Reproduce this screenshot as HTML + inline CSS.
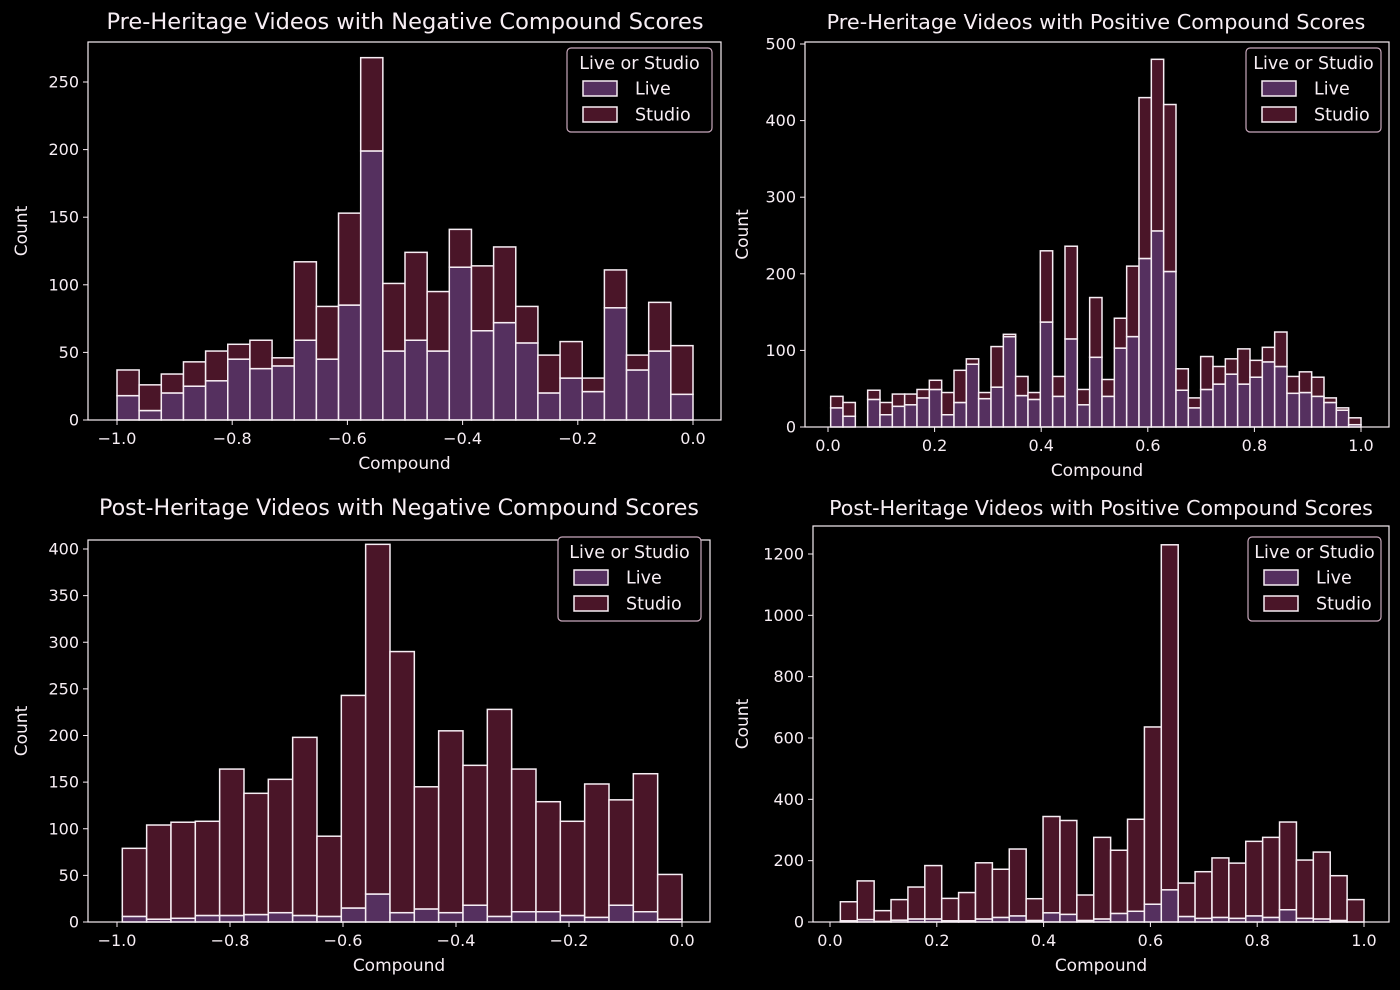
<!DOCTYPE html>
<html><head><meta charset="utf-8"><style>
html,body{margin:0;padding:0;background:#000;}
svg{display:block;font-family:"DejaVu Sans","Liberation Sans",sans-serif;}
</style></head><body>
<svg id="root" width="1400" height="990" viewBox="0 0 1400 990"></svg>
<script>
// Pre-Heritage negative
const tlLive=[18,7,20,25,29,45,38,40,59,45,85,199,51,59,51,113,66,72,57,20,31,21,83,37,51,19];
const tlTotal=[37,26,34,43,51,56,59,46,117,84,153,268,101,124,95,141,114,128,84,48,58,31,111,48,87,55];
// Pre-Heritage positive
const trLive=[25,14,0,36,16,27,29,38,49,16,32,82,37,52,118,41,36,137,40,115,29,91,40,103,118,220,256,203,48,25,49,56,69,56,65,85,79,44,45,40,32,22,3];
const trTotal=[40,32,0,48,32,43,43,49,61,45,74,89,45,105,121,66,45,230,66,236,49,169,62,142,210,430,480,421,76,38,92,79,89,102,87,104,124,66,72,65,38,25,12];
// Post-Heritage negative
const blLive=[6,3,4,7,7,8,10,7,6,15,30,10,14,10,18,6,11,11,7,5,18,11,3];
const blTotal=[79,104,107,108,164,138,153,198,92,243,405,290,145,205,168,228,164,129,108,148,131,159,51];
// Post-Heritage positive
const brLive=[4,8,2,6,10,10,4,4,10,15,20,5,30,25,5,10,28,35,58,105,18,12,15,12,20,15,40,12,10,5,0];
const brTotal=[66,134,37,73,114,184,77,96,193,172,238,76,344,331,88,276,234,335,636,1230,127,164,209,192,263,276,326,202,228,151,73];

const xTicksNeg=["−1.0","−0.8","−0.6","−0.4","−0.2","0.0"];
const xTickValsNeg=[-1,-0.8,-0.6,-0.4,-0.2,0];
const xTicksPos=["0.0","0.2","0.4","0.6","0.8","1.0"];
const xTickValsPos=[0,0.2,0.4,0.6,0.8,1];
const tlYTicks=[0,50,100,150,200,250];
const trYTicks=[0,100,200,300,400,500];
const blYTicks=[0,50,100,150,200,250,300,350,400];
const brYTicks=[0,200,400,600,800,1000,1200];

const NS="http://www.w3.org/2000/svg";
const root=document.getElementById('root');
function mk(tag,attrs,parent){const e=document.createElementNS(NS,tag);for(const k in attrs)e.setAttribute(k,attrs[k]);(parent||root).appendChild(e);return e;}
const LIVE="#55305f",STUDIO="#4a1528",FG="#f7eef4";

function panel(p){
  const g=mk('g',{});
  
  
  const sx=v=>p.x0px+(v-p.x0v)*(p.x1px-p.x0px)/(p.x1v-p.x0v);
  const sy=v=>p.y0px-v*(p.y0px-p.y1px)/p.y1v;
  for(let i=0;i<p.total.length;i++){
    const a=sx(p.start+i*p.w), b=sx(p.start+(i+1)*p.w);
    const live=p.live[i], tot=p.total[i];
    if(tot<=0) continue;
    const r1=mk('rect',{x:a,y:sy(live),width:b-a,height:sy(0)-sy(live),fill:LIVE,stroke:FG,'stroke-width':1.5},g);
    
    
    const r2=mk('rect',{x:a,y:sy(tot),width:b-a,height:sy(live)-sy(tot),fill:STUDIO,stroke:FG,'stroke-width':1.5},g);
    
    
  }
  const fr=mk('rect',{x:p.ax,y:p.ay,width:p.aw,height:p.ah,fill:'none',stroke:FG,'stroke-width':1.2},g);
  
  
  p.xv.forEach((v,i)=>{
    const x=sx(v);
    mk('line',{x1:x,x2:x,y1:p.ay+p.ah,y2:p.ay+p.ah+5,stroke:FG,'stroke-width':1},g);
    const t=mk('text',{x:x,y:p.ay+p.ah+24,'text-anchor':'middle','font-size':16,fill:FG},g);
    t.textContent=p.xl[i];
    
    
  });
  p.yt.forEach(v=>{
    const y=sy(v);
    mk('line',{x1:p.ax-5,x2:p.ax,y1:y,y2:y,stroke:FG,'stroke-width':1},g);
    const t=mk('text',{x:p.ax-9,y:y+5.5,'text-anchor':'end','font-size':16,fill:FG},g);
    t.textContent=v;
    
    
  });
  const xt=mk('text',{x:p.ax+p.aw/2,y:p.ay+p.ah+49,'text-anchor':'middle','font-size':17,fill:FG},g);
  xt.textContent='Compound';
  
  
  const ycx=p.ax-(p.ylx||60), ycy=p.ay+p.ah/2;
  const yt=mk('text',{x:ycx,y:ycy,'text-anchor':'middle','font-size':17,fill:FG,transform:`rotate(-90 ${ycx} ${ycy})`},g);
  yt.textContent='Count';
  
  
  const tt=mk('text',{x:p.tx||(p.ax+p.aw/2),y:p.ty,'text-anchor':'middle','font-size':p.tfs,fill:FG},g);
  tt.textContent=p.title;
  
  
  const L=p.leg;
  const lg=mk('g',{},g);
  
  
  mk('rect',{x:L.x,y:L.y,width:L.w,height:84,rx:4,fill:'#000',stroke:'#c8a8bc','stroke-width':1.2},lg);
  const lt=mk('text',{x:L.x+L.w/2,y:L.y+21,'text-anchor':'middle','font-size':17.5,fill:FG},lg);
  lt.textContent='Live or Studio';
  [['Live',LIVE],['Studio',STUDIO]].forEach((e,i)=>{
    const y=L.y+33+i*26;
    const le=mk('g',{},lg);
    
    
    mk('rect',{x:L.x+16,y:y,width:34,height:15,fill:e[1],stroke:FG,'stroke-width':1.5},le);
    const tx=mk('text',{x:L.x+68,y:y+13.5,'font-size':17.5,fill:FG},le);
    tx.textContent=e[0];
  });
}

panel({name:'pre-heritage-negative-chart',title:'Pre-Heritage Videos with Negative Compound Scores',
  ax:88,ay:42,aw:633,ah:378,x0v:-1,x1v:0,x0px:117,x1px:693,y0px:420,y1px:82,y1v:250,
  start:-1,w:1/26,live:tlLive,total:tlTotal,xv:xTickValsNeg,xl:xTicksNeg,yt:tlYTicks,ty:29,ylx:61,tfs:22.5,tx:405,
  leg:{x:567,y:48,w:145}});
panel({name:'pre-heritage-positive-chart',title:'Pre-Heritage Videos with Positive Compound Scores',
  ax:805,ay:42,aw:584,ah:385,x0v:0,x1v:1,x0px:828,x1px:1361,y0px:427,y1px:44,y1v:500,
  start:0.005,w:0.995/43,live:trLive,total:trTotal,xv:xTickValsPos,xl:xTicksPos,yt:trYTicks,ty:29,ylx:57,tfs:20.8,tx:1096,
  leg:{x:1246,y:48,w:135}});
panel({name:'post-heritage-negative-chart',title:'Post-Heritage Videos with Negative Compound Scores',
  ax:88,ay:540,aw:622,ah:382,x0v:-1,x1v:0,x0px:117,x1px:682,y0px:922,y1px:549,y1v:400,
  start:-0.9906,w:0.9906/23,live:blLive,total:blTotal,xv:xTickValsNeg,xl:xTicksNeg,yt:blYTicks,ty:515,ylx:61,tfs:22.2,tx:399,
  leg:{x:558,y:537,w:143}});
panel({name:'post-heritage-positive-chart',title:'Post-Heritage Videos with Positive Compound Scores',
  ax:813,ay:526,aw:576,ah:396,x0v:0,x1v:1,x0px:830,x1px:1364,y0px:922,y1px:554,y1v:1200,
  start:0.0194,w:0.9806/31,live:brLive,total:brTotal,xv:xTickValsPos,xl:xTicksPos,yt:brYTicks,ty:515,ylx:65,tfs:20.6,tx:1101,
  leg:{x:1248,y:537,w:133}});
</script>
</body></html>
